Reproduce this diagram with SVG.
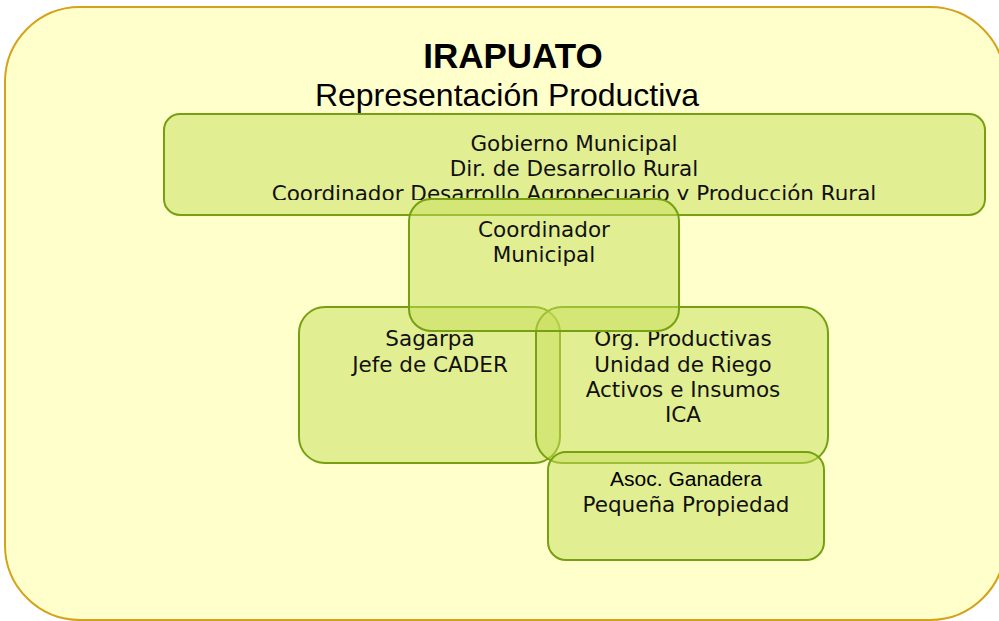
<svg xmlns="http://www.w3.org/2000/svg" width="999" height="621" viewBox="0 0 999 621">
<style>
.bg{fill:#FFFFCC;stroke:#D4A21C;stroke-width:2}
.box{fill:#C6DE58;fill-opacity:0.5;stroke:#76A012;stroke-width:2}
.v{font-family:"DejaVu Sans",Verdana,sans-serif;font-size:21.5px;fill:#111;text-anchor:middle}
.a{font-family:"Liberation Sans",Arial,sans-serif;fill:#000;text-anchor:middle}
</style>
<defs>
<clipPath id="c1"><rect x="164" y="114" width="821" height="86"/></clipPath>
</defs>
<rect class="bg" x="5" y="7" width="1000" height="613" rx="75" ry="75"/>
<g id="title">
<text class="a" x="513" y="68" font-size="35" font-weight="bold">IRAPUATO</text>
<text class="a" x="507" y="106" font-size="32">Representación Productiva</text>
</g>
<g id="gobierno">
<rect class="box" x="164" y="114" width="821" height="101" rx="16"/>
<g clip-path="url(#c1)">
<text class="v" x="574" y="151">Gobierno Municipal</text>
<text class="v" x="574" y="176">Dir. de Desarrollo Rural</text>
<text class="v" x="574" y="201">Coordinador Desarrollo Agropecuario y Producción Rural</text>
</g>
</g>
<g id="sagarpa">
<rect class="box" x="299" y="307" width="261" height="156" rx="26"/>
<text class="v" x="430" y="346">Sagarpa</text>
<text class="v" x="430" y="372">Jefe de CADER</text>
</g>
<g id="org">
<rect class="box" x="536" y="307" width="292" height="156" rx="26"/>
<text class="v" x="683" y="346">Org. Productivas</text>
<text class="v" x="683" y="372">Unidad de Riego</text>
<text class="v" x="683" y="397">Activos e Insumos</text>
<text class="v" x="683" y="422">ICA</text>
</g>
<g id="asoc">
<rect class="box" x="548" y="452" width="276" height="108" rx="18"/>
<text class="a" x="686" y="486" font-size="19.5" textLength="152" lengthAdjust="spacingAndGlyphs">Asoc. Ganadera</text>
<text class="v" x="686" y="512">Pequeña Propiedad</text>
</g>
<g id="coordinador">
<rect class="box" x="409" y="199" width="270" height="132" rx="22"/>
<text class="v" x="544" y="237">Coordinador</text>
<text class="v" x="544" y="262">Municipal</text>
</g>
<g id="connectors"/>
</svg>
